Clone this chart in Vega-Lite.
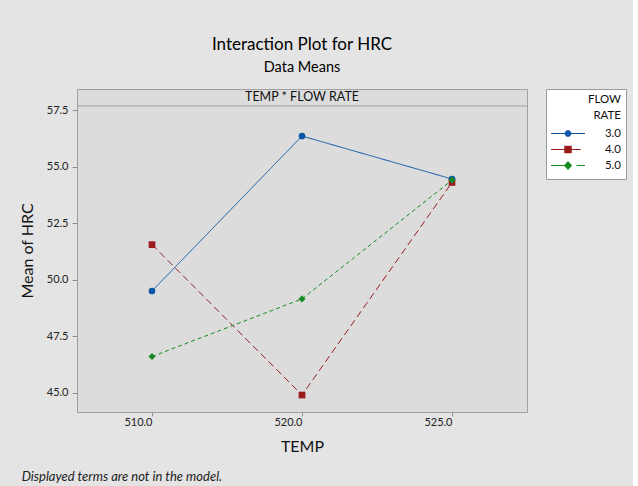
{
  "$schema": "https://vega.github.io/schema/vega-lite/v6.json",
  "background": "#e4e4e4",
  "padding": {"left": 18, "top": 35, "right": 6, "bottom": 5},
  "config": {
    "font": "Lato",
    "view": {"fill": "#dcdcdc", "stroke": "#a0a0a0", "strokeWidth": 1}
  },
  "title": {
    "text": "Displayed terms are not in the model.",
    "orient": "bottom",
    "anchor": "start",
    "font": "Lato",
    "fontSize": 13,
    "fontStyle": "italic",
    "fontWeight": "normal",
    "color": "#222222",
    "offset": 16,
    "dx": 3
  },
  "vconcat": [
    {
      "title": {
        "text": "Interaction Plot for HRC",
        "subtitle": "Data Means",
        "font": "Lato",
        "subtitleFont": "Lato",
        "fontSize": 17,
        "fontWeight": "normal",
        "subtitleFontSize": 14.5,
        "color": "#000000",
        "subtitleColor": "#000000",
        "anchor": "middle",
        "frame": "group",
        "offset": 14,
        "subtitlePadding": 7
      },
      "width": 450,
      "height": 323,
      "data": {
        "values": [
          {"FLOW": "3.0", "TEMP": "510.0", "HRC": 49.5},
          {"FLOW": "3.0", "TEMP": "520.0", "HRC": 56.35},
          {"FLOW": "3.0", "TEMP": "525.0", "HRC": 54.45},
          {"FLOW": "4.0", "TEMP": "510.0", "HRC": 51.55},
          {"FLOW": "4.0", "TEMP": "520.0", "HRC": 44.9},
          {"FLOW": "4.0", "TEMP": "525.0", "HRC": 54.3},
          {"FLOW": "5.0", "TEMP": "510.0", "HRC": 46.6},
          {"FLOW": "5.0", "TEMP": "520.0", "HRC": 49.15},
          {"FLOW": "5.0", "TEMP": "525.0", "HRC": 54.4}
        ]
      },
      "layer": [
        {
          "data": {"values": [{"label": "TEMP * FLOW RATE"}]},
          "mark": {"type": "rule", "color": "#a0a0a0", "strokeWidth": 1},
          "encoding": {"y": {"datum": 57.68, "type": "quantitative"}}
        },
        {
          "data": {"values": [{"label": "TEMP * FLOW RATE"}]},
          "mark": {"type": "text", "font": "Lato", "fontSize": 12.5, "color": "#111111", "baseline": "middle", "align": "center"},
          "encoding": {
            "text": {"field": "label"},
            "x": {"datum": "520.0", "type": "ordinal"},
            "y": {"datum": 58.06, "type": "quantitative"}
          }
        },
        {
          "mark": {"type": "line", "strokeWidth": 1},
          "encoding": {
            "x": {"field": "TEMP", "type": "ordinal", "scale": {"type": "point", "padding": 0.5},
              "axis": {"title": "TEMP", "titleFontSize": 16, "titleFontWeight": "normal", "titleColor": "#111111", "titlePadding": 11,
                "labelAngle": 0, "labelFontSize": 11, "labelColor": "#222222", "labelPadding": 6,
                "tickColor": "#909090", "tickSize": 4, "domain": false, "grid": false}},
            "y": {"field": "HRC", "type": "quantitative", "scale": {"domain": [44.15, 58.43], "nice": false, "zero": false},
              "axis": {"title": "Mean of HRC", "titleFontSize": 16, "titleFontWeight": "normal", "titleColor": "#111111", "titlePadding": 11,
                "values": [45, 47.5, 50, 52.5, 55, 57.5], "format": ".1f",
                "labelFontSize": 11, "labelColor": "#222222", "labelPadding": 4,
                "tickColor": "#909090", "tickSize": 5, "domain": false, "grid": false}},
            "color": {"field": "FLOW", "type": "nominal",
              "scale": {"domain": ["3.0", "4.0", "5.0"], "range": ["#0b57a6", "#9b1c1c", "#168a22"]},
              "legend": {
                "title": ["FLOW", "RATE"], "orient": "right", "offset": 18, "padding": 5,
                "fillColor": "#ffffff", "strokeColor": "#9a9a9a",
                "titleFont": "Lato", "titleFontSize": 11.5, "titleFontWeight": "normal", "titleColor": "#111111",
                "titleAlign": "right", "titleAnchor": "end", "titleLineHeight": 16, "titlePadding": 4,
                "labelFont": "Lato", "labelFontSize": 11.5, "labelColor": "#111111", "labelAlign": "right", "labelOffset": 36,
                "symbolSize": 1156, "clipHeight": 16, "rowPadding": 0,
                "encode": {"symbols": {"update": {
                  "shape": {"signal": "datum.value === '3.0' ? 'M-1,-0.03L1,-0.03L1,0.03L-1,0.03ZM-0.19,-0.08L-0.08,-0.19L0.08,-0.19L0.19,-0.08L0.19,0.08L0.08,0.19L-0.08,0.19L-0.19,0.08Z' : datum.value === '4.0' ? 'M-1,-0.03L0.75,-0.03L0.75,0.03L-1,0.03ZM-0.22,-0.22L0.22,-0.22L0.22,0.22L-0.22,0.22Z' : 'M-1,-0.03L-0.2,-0.03L-0.2,0.03L-1,0.03ZM0.5,-0.03L1,-0.03L1,0.03L0.5,0.03ZM0,-0.26L0.24,0L0,0.26L-0.24,0Z'"},
                  "fill": {"signal": "scale('color', datum.value)"},
                  "strokeWidth": {"value": 0},
                  "size": {"value": 1156},
                  "opacity": {"value": 1}
                }}}
              }},
            "strokeDash": {"field": "FLOW", "type": "nominal",
              "scale": {"domain": ["3.0", "4.0", "5.0"], "range": [[1, 0], [7, 4], [4, 3]]},
              "legend": {
                "title": ["FLOW", "RATE"], "orient": "right", "offset": 18, "padding": 5,
                "fillColor": "#ffffff", "strokeColor": "#9a9a9a",
                "titleFont": "Lato", "titleFontSize": 11.5, "titleFontWeight": "normal", "titleColor": "#111111",
                "titleAlign": "right", "titleAnchor": "end", "titleLineHeight": 16, "titlePadding": 4,
                "labelFont": "Lato", "labelFontSize": 11.5, "labelColor": "#111111", "labelAlign": "right", "labelOffset": 36,
                "symbolSize": 1156, "clipHeight": 16, "rowPadding": 0
              }}
          }
        },
        {
          "transform": [{"filter": "datum.FLOW === '3.0'"}],
          "mark": {"type": "point", "filled": true, "opacity": 1, "size": 45, "shape": "circle"},
          "encoding": {
            "x": {"field": "TEMP", "type": "ordinal"},
            "y": {"field": "HRC", "type": "quantitative"},
            "color": {"field": "FLOW", "type": "nominal", "legend": null}
          }
        },
        {
          "transform": [{"filter": "datum.FLOW === '4.0'"}],
          "mark": {"type": "point", "filled": true, "opacity": 1, "size": 45, "shape": "square"},
          "encoding": {
            "x": {"field": "TEMP", "type": "ordinal"},
            "y": {"field": "HRC", "type": "quantitative"},
            "color": {"field": "FLOW", "type": "nominal", "legend": null}
          }
        },
        {
          "transform": [{"filter": "datum.FLOW === '5.0'"}],
          "mark": {"type": "point", "filled": true, "opacity": 1, "size": 50, "shape": "diamond"},
          "encoding": {
            "x": {"field": "TEMP", "type": "ordinal"},
            "y": {"field": "HRC", "type": "quantitative"},
            "color": {"field": "FLOW", "type": "nominal", "legend": null}
          }
        }
      ]
    }
  ]
}
